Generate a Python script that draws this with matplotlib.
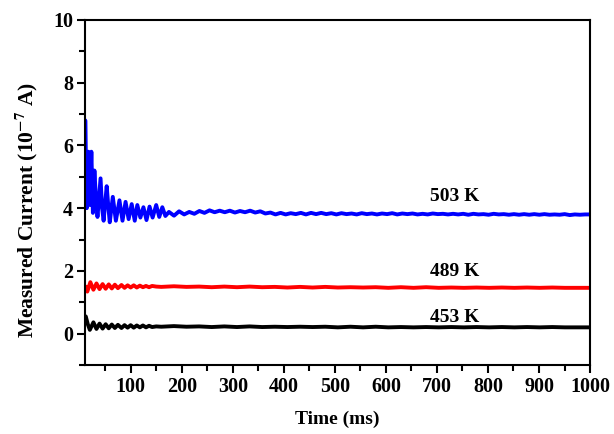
import numpy as np
import matplotlib
matplotlib.use("Agg")
import matplotlib.pyplot as plt
from matplotlib.ticker import MultipleLocator

plt.rcParams['font.family'] = ['Liberation Serif', 'DejaVu Serif']
plt.rcParams['font.weight'] = 'bold'
plt.rcParams['mathtext.fontset'] = 'stix'

# 503 K trace: early ringing (peaks / troughs)
blue_t = [10, 11, 14, 17, 20, 23, 26, 29, 32, 35, 41, 44, 47, 53, 56, 59, 65,
          71, 78, 84, 90, 96, 102, 108, 113, 119, 125, 131, 137, 143, 150,
          156, 162, 168]
blue_v = [4.1, 6.8, 4.0, 5.8, 4.1, 5.8, 3.85, 5.2, 4.3, 3.72, 4.95, 4.0, 3.6,
          4.7, 4.1, 3.55, 4.36, 3.6, 4.25, 3.6, 4.2, 3.65, 4.13, 3.6, 4.1,
          3.7, 4.03, 3.62, 4.05, 3.7, 4.1, 3.72, 4.03, 3.75]
# 503 K trace: settled part, sampled every ~10 ms from 175 ms to 1000 ms
blue_tail = [3.88, 3.76, 3.9, 3.8, 3.88, 3.82, 3.91, 3.85, 3.93, 3.87, 3.92,
             3.87, 3.92, 3.86, 3.91, 3.87, 3.92, 3.86, 3.9, 3.83, 3.86, 3.8,
             3.85, 3.8, 3.84, 3.81, 3.85, 3.8, 3.85, 3.81, 3.85, 3.81, 3.84,
             3.8, 3.84, 3.81, 3.83, 3.8, 3.84, 3.81, 3.83, 3.8, 3.83, 3.81,
             3.84, 3.8, 3.83, 3.81, 3.83, 3.8, 3.82, 3.8, 3.83, 3.81, 3.82,
             3.8, 3.82, 3.8, 3.82, 3.79, 3.82, 3.8, 3.81, 3.79, 3.82, 3.8,
             3.81, 3.79, 3.81, 3.79, 3.81, 3.79, 3.81, 3.79, 3.81, 3.79, 3.8,
             3.79, 3.81, 3.78, 3.8, 3.79, 3.8, 3.8]

# 489 K trace
red_t = [10, 12, 15, 21, 27, 33, 39, 45, 51, 57, 63, 69, 75, 82, 88, 94, 100,
         106, 112, 118, 124, 130, 136, 142, 150]
red_v = [1.45, 1.5, 1.34, 1.64, 1.4, 1.6, 1.42, 1.58, 1.43, 1.57, 1.44, 1.56,
         1.45, 1.55, 1.46, 1.54, 1.47, 1.54, 1.47, 1.53, 1.48, 1.52, 1.48,
         1.52, 1.5]
red_tail = [1.49, 1.51, 1.49, 1.5, 1.48, 1.5, 1.48, 1.5, 1.48, 1.49, 1.47,
            1.49, 1.47, 1.49, 1.47, 1.48, 1.47, 1.48, 1.46, 1.48, 1.46, 1.48,
            1.46, 1.47, 1.46, 1.47, 1.46, 1.47, 1.46, 1.47, 1.46, 1.47, 1.46,
            1.46, 1.46]

# 453 K trace
black_t = [10, 12, 16, 20, 27, 33, 39, 45, 51, 57, 63, 69, 75, 82, 88, 94,
           100, 106, 112, 118, 124, 130, 136, 142, 150]
black_v = [0.45, 0.55, 0.3, 0.12, 0.36, 0.15, 0.32, 0.16, 0.3, 0.17, 0.29,
           0.18, 0.28, 0.18, 0.27, 0.19, 0.27, 0.19, 0.26, 0.2, 0.26, 0.2,
           0.25, 0.21, 0.23]
black_tail = [0.22, 0.24, 0.22, 0.23, 0.21, 0.23, 0.21, 0.23, 0.21, 0.22,
              0.21, 0.22, 0.21, 0.22, 0.2, 0.22, 0.2, 0.22, 0.2, 0.21, 0.2,
              0.21, 0.2, 0.21, 0.2, 0.21, 0.2, 0.21, 0.2, 0.21, 0.2, 0.21,
              0.2, 0.2, 0.2]

labels = ['503 K', '489 K', '453 K']

fig = plt.figure(figsize=(6.14, 4.34), dpi=100)
ax = fig.add_axes([0.138, 0.159, 0.823, 0.795])

series = [
    (blue_t, blue_v, blue_tail, 175, '#0000ff'),
    (red_t, red_v, red_tail, 160, '#ff0000'),
    (black_t, black_v, black_tail, 160, 'black'),
]
for t, v, tail, t0, c in series:
    tt = np.concatenate([t, np.linspace(t0, 1000, len(tail))])
    vv = np.concatenate([v, tail])
    ax.plot(tt, vv, color=c, lw=2.8, solid_joinstyle='round')

label_y = [4.38, 1.98, 0.5]
for lab, y in zip(labels, label_y):
    ax.text(735, y, lab, ha='center', va='center', fontsize=14,
            fontweight='bold')

ax.set_xlim(10, 1000)
ax.set_ylim(-1, 10)
ax.xaxis.set_major_locator(MultipleLocator(100))
ax.xaxis.set_minor_locator(MultipleLocator(50))
ax.yaxis.set_major_locator(MultipleLocator(2))
ax.yaxis.set_minor_locator(MultipleLocator(1))
ax.set_yticks([0, 2, 4, 6, 8, 10])

ax.tick_params(which='both', direction='out', top=False, right=False,
               width=1.5, labelsize=14.5, pad=3)
ax.tick_params(which='major', length=5.5)
ax.tick_params(which='minor', length=4)
for s in ax.spines.values():
    s.set_linewidth(1.5)

ax.set_xlabel('Time (ms)', fontsize=14, fontweight='bold', labelpad=10)
ax.set_ylabel(r'Measured Current (10$^{\mathbf{-7}}$ A)', fontsize=15.5,
              fontweight='bold')
ax.yaxis.set_label_coords(-0.088, 0.45)

fig.savefig('out.png', dpi=100)
